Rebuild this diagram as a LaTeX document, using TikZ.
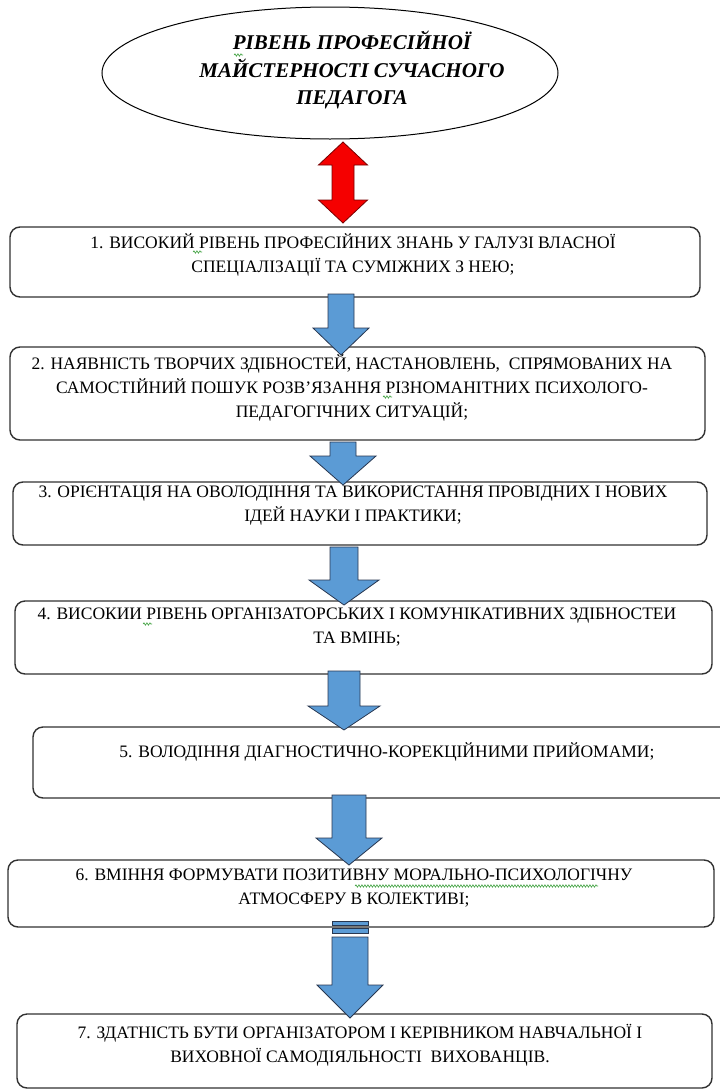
\documentclass[tikz,border=0pt]{standalone}
\usepackage{fontspec}
\setmainfont{Liberation Serif}
\usetikzlibrary{decorations.pathmorphing}
\definecolor{arrowblue}{RGB}{91,155,213}
\definecolor{arrowedge}{RGB}{40,55,80}
\definecolor{boxedge}{RGB}{50,50,50}
\definecolor{arrowred}{RGB}{245,0,0}
\definecolor{redge}{RGB}{120,0,0}
\definecolor{spellgreen}{RGB}{60,160,60}
\newcommand\blockarrow[7]{% name, cx, shaft half, head half, ytop, ybase, ytip
  \draw[barrow] ({#2-#3},#5) -- ({#2+#3},#5) -- ({#2+#3},#6) -- ({#2+#4},#6)
    -- (#2,#7) coordinate (#1tip) -- ({#2-#4},#6) -- ({#2-#3},#6) -- cycle;}
\begin{document}
\begin{tikzpicture}[x=1pt,y=-1pt,
  box/.style={draw=boxedge, line width=1.4pt, rounded corners=10pt, fill=white, inner sep=0pt},
  txt/.style={align=center, inner sep=0pt, font=\fontsize{17.5}{24}\selectfont},
  ttl/.style={align=center, inner sep=0pt, font=\fontsize{21}{27.5}\selectfont\bfseries\itshape},
  barrow/.style={fill=arrowblue, draw=arrowedge, line width=0.8pt, line join=miter},
  rarrow/.style={fill=arrowred, draw=redge, line width=0.8pt, line join=miter},
  squiggle/.style={spellgreen, line width=0.6pt, decorate, decoration={snake, amplitude=1.2pt, segment length=3pt}}]
\useasboundingbox (0,0) rectangle (720,1090);
\fill[white] (0,0) rectangle (720,1090);
\clip (0,0) rectangle (720,1090);

% title ellipse
\draw[line width=1pt] (330,73) ellipse [x radius=228, y radius=66];
\node[ttl] (title) at (352,70) {РІВЕНЬ ПРОФЕСІЙНОЇ\\МАЙСТЕРНОСТІ СУЧАСНОГО\\ПЕДАГОГА};

% boxes
\node[box, minimum width=690, minimum height=70] (b1) at (355,262) {};
\node[box, minimum width=695, minimum height=93] (b2) at (357.5,393.5) {};
\node[box, minimum width=694, minimum height=63] (b3) at (360,513.5) {};
\node[box, minimum width=697, minimum height=73] (b4) at (363.5,637.5) {};
\node[box, minimum width=708, minimum height=71] (b5) at (387,762.5) {};
\node[box, minimum width=706, minimum height=67] (b6) at (361,893.5) {};
\node[box, minimum width=695, minimum height=74] (b7) at (364.5,1051) {};

% texts
\node[txt] (t1) at (353,254.5) {1. ВИСОКИЙ РІВЕНЬ ПРОФЕСІЙНИХ ЗНАНЬ У ГАЛУЗІ ВЛАСНОЇ\\СПЕЦІАЛІЗАЦІЇ ТА СУМІЖНИХ З НЕЮ;};
\node[txt] (t2) at (352,388) {2. НАЯВНІСТЬ ТВОРЧИХ ЗДІБНОСТЕЙ, НАСТАНОВЛЕНЬ,\ \ СПРЯМОВАНИХ НА\\САМОСТІЙНИЙ ПОШУК РОЗВ’ЯЗАННЯ РІЗНОМАНІТНИХ ПСИХОЛОГО-\\ПЕДАГОГІЧНИХ СИТУАЦІЙ;};
\node[txt] (t3) at (353,506) {3. ОРІЄНТАЦІЯ НА ОВОЛОДІННЯ ТА ВИКОРИСТАННЯ ПРОВІДНИХ І НОВИХ\\ІДЕЙ НАУКИ І ПРАКТИКИ;};
\node[txt] (t4) at (357,627.5) {4. ВИСОКИИ РІВЕНЬ ОРГАНІЗАТОРСЬКИХ І КОМУНІКАТИВНИХ ЗДІБНОСТЕИ\\ТА ВМІНЬ;};
\node[txt] (t5) at (387,752) {5. ВОЛОДІННЯ ДІАГНОСТИЧНО-КОРЕКЦІЙНИМИ ПРИЙОМАМИ;};
\node[txt] (t6) at (354,888.5) {6. ВМІННЯ ФОРМУВАТИ ПОЗИТИВНУ МОРАЛЬНО-ПСИХОЛОГІЧНУ\\АТМОСФЕРУ В КОЛЕКТИВІ;};
\node[txt] (t7) at (360,1045) {7. ЗДАТНІСТЬ БУТИ ОРГАНІЗАТОРОМ І КЕРІВНИКОМ НАВЧАЛЬНОЇ І\\ВИХОВНОЇ САМОДІЯЛЬНОСТІ\ \ ВИХОВАНЦІВ.};

% red double arrow
\draw[rarrow] (343,142) coordinate (rtop) -- (367.5,165) -- (354,165) -- (354,200) -- (367.5,200)
  -- (343,223) coordinate (rbot) -- (318.5,200) -- (332,200) -- (332,165) -- (318.5,165) -- cycle;

% blue arrows
\blockarrow{a1}{341}{13}{28}{294}{328}{355}
\blockarrow{a2}{343}{13}{33}{442}{456}{485}
\blockarrow{a3}{344}{14}{35}{547}{580}{605}
\blockarrow{a4}{344}{16}{36}{671}{706}{730}
\blockarrow{a5}{349}{17}{33}{795}{838}{865}
% striped arrow 6
\draw[barrow] (332,921) rectangle (368,925);
\draw[barrow] (332,928.5) rectangle (368,933);
\blockarrow{a6}{350}{18}{33}{937}{985}{1018}

% spell-check squiggles
\draw[squiggle] (355,886) -- (598,886);
\draw[squiggle] (234,55) -- (243,55);
\draw[squiggle] (193,252) -- (202,252);
\draw[squiggle] (383,397) -- (392,397);
\draw[squiggle] (143,624) -- (152,624);
\end{tikzpicture}
\end{document}
